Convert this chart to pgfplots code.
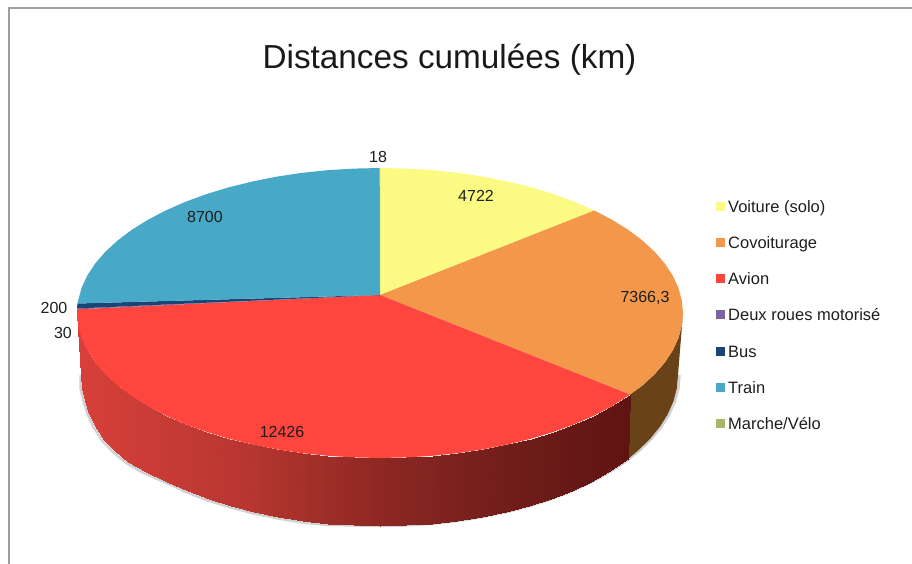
\documentclass[border=0pt]{standalone}
\usepackage{pgfplots}
\pgfplotsset{compat=1.18}
\usepackage{fontspec}
\setmainfont{Liberation Sans}
\definecolor{cyellow}{RGB}{251,250,130}
\definecolor{corange}{RGB}{243,152,74}
\definecolor{cred}{RGB}{254,69,62}
\definecolor{cmoto}{RGB}{125,99,162}
\definecolor{cbus}{RGB}{26,68,118}
\definecolor{ctrain}{RGB}{71,169,198}
\definecolor{cwalk}{RGB}{165,184,104}
\definecolor{cbrown}{RGB}{106,66,24}
\definecolor{clab}{RGB}{30,30,30}
\begin{document}
\begin{tikzpicture}
\useasboundingbox (0,0) rectangle (912pt,564pt);
\begin{axis}[scale only axis,width=912pt,height=564pt,
  hide axis,xmin=0,xmax=912,ymin=0,ymax=564,y dir=reverse,
  colormap={sidered}{rgb255(0)=(216,64,58) rgb255(168)=(184,54,48) rgb255(298)=(142,40,35) rgb255(418)=(114,30,27) rgb255(548)=(94,20,18)},
  legend image code/.code={\path[#1] (0pt,-3pt) rectangle (9pt,6pt);},
  legend cell align=left,
  legend style={at={(axis cs:716,200)},anchor=north west,draw=none,fill=none,inner sep=0pt,
    font=\fontsize{16.5}{19}\selectfont,text=clab,row sep=21.2pt,
    nodes={text height=12pt,text depth=3pt,inner sep=0pt,outer sep=0pt},
    /tikz/column 1/.style={column sep=3pt}},
]
% frame
\addplot[forget plot,draw=black!38,line width=2pt] coordinates {(8.5,564)(8.5,8)(912,8)};
% soft shadow under the disc
\addplot[forget plot,draw=black!18,line width=2.5pt] coordinates
  {(679.5,375)(678.4,388.2)(675,401.2)(669.3,414.1)(661.5,426.6)(651.6,438.8)(639.6,450.5)(625.6,461.6)(609.8,472.1)(592.2,481.8)(573.1,490.7)(552.4,498.7)(530.5,505.8)(507.4,511.9)(483.4,516.9)(458.6,520.9)(433.2,523.7)(407.5,525.4)(381.5,526)(355.5,525.4)(328,525)(303,522.5)(278,518.5)(254,513.5)(231,507.5)(208,500.5)(187,492.5)(168,483.5)(144.5,473.5)(126.5,463)(113.5,452.5)(102.5,441)(93.5,427)(88,415)(83.5,401)(80.5,388)(80.5,375)};
% side of the disc
\addplot[forget plot,fill=cbrown,draw=none] coordinates
  {(683,313)(681.8,325.6)(678.4,338.2)(672.7,350.5)(664.7,362.6)(654.6,374.3)(642.4,385.5)(630,394.5)(628,459)(638.1,450.5)(650.1,438.8)(660,426.6)(667.8,414.1)(673.5,401.2)(676.9,388.2)(678,375)} -- cycle;
\addplot[forget plot,patch,patch type=rectangle,mesh input=lattice,mesh/cols=30,shader=interp,point meta=x] table[x=x,y=y] {
x y
630 394.5
612.1 406.2
594.3 415.5
574.8 424.1
553.8 431.8
531.5 438.6
508 444.4
483.6 449.3
458.4 453.1
432.6 455.8
406.4 457.4
380 458
353.6 457.4
327.4 455.8
301.6 453.1
276.4 449.3
252 444.4
228.5 438.6
206.2 431.8
185.2 424.1
165.7 415.5
147.9 406.2
131.8 396.2
117.6 385.5
105.4 374.3
95.3 362.6
87.3 350.5
81.6 338.2
78.2 325.6
77 313
628 459
608.3 472.1
590.7 481.8
571.6 490.7
550.9 498.7
529 505.8
505.9 511.9
481.9 516.9
457.1 520.9
431.7 523.7
406 525.4
380 526
354 525.4
328.3 523.7
302.9 520.9
278.1 516.9
254.1 511.9
231 505.8
209.1 498.7
188.4 490.7
167 482
146 472
128 461.6
115 451
104 440
95 426
89.5 414
85 401
82 388
81 375
};
% top of the disc, one slice per series
\addplot[fill=cyellow,draw=none] coordinates
  {(380,295)(380,168)(406.4,168.6)(432.6,170.2)(458.4,172.9)(483.6,176.7)(508,181.6)(531.5,187.4)(553.8,194.2)(574.8,201.9)(594.3,210.5)} -- cycle;
\addlegendentry{Voiture (solo)}
\addplot[fill=corange,draw=none] coordinates
  {(380,295)(594.3,210.5)(612.1,219.8)(628.2,229.8)(642.4,240.5)(654.6,251.7)(664.7,263.4)(672.7,275.5)(678.4,287.8)(681.8,300.4)(683,313)(681.8,325.6)(678.4,338.2)(672.7,350.5)(664.7,362.6)(654.6,374.3)(642.4,385.5)(630,394.5)} -- cycle;
\addlegendentry{Covoiturage}
\addplot[fill=cred,draw=none] coordinates
  {(380,295)(630,394.5)(612.1,406.2)(594.3,415.5)(574.8,424.1)(553.8,431.8)(531.5,438.6)(508,444.4)(483.6,449.3)(458.4,453.1)(432.6,455.8)(406.4,457.4)(380,458)(353.6,457.4)(327.4,455.8)(301.6,453.1)(276.4,449.3)(252,444.4)(228.5,438.6)(206.2,431.8)(185.2,424.1)(165.7,415.5)(147.9,406.2)(131.8,396.2)(117.6,385.5)(105.4,374.3)(95.3,362.6)(87.3,350.5)(81.6,338.2)(78.2,325.6)(77,313)(77,309.3)} -- cycle;
\addlegendentry{Avion}
\addplot[fill=cmoto,draw=none] coordinates
  {(380,295)(77,309.3)(77,308.5)} -- cycle;
\addlegendentry{Deux roues motorisé}
\addplot[fill=cbus,draw=none] coordinates
  {(380,295)(77,308.5)(77.5,303.5)} -- cycle;
\addlegendentry{Bus}
\addplot[fill=ctrain,draw=none] coordinates
  {(380,295)(77.5,303.5)(78.2,300.4)(81.6,287.8)(87.3,275.5)(95.3,263.4)(105.4,251.7)(117.6,240.5)(131.8,229.8)(147.9,219.8)(165.7,210.5)(185.2,201.9)(206.2,194.2)(228.5,187.4)(252,181.6)(276.4,176.7)(301.6,172.9)(327.4,170.2)(353.6,168.6)(379.7,168)} -- cycle;
\addlegendentry{Train}
\addplot[fill=cwalk,draw=none] coordinates
  {(380,295)(379.7,168)(380,168)} -- cycle;
\addlegendentry{Marche/Vélo}
% title and value labels
\node[font=\fontsize{33.3}{40}\selectfont,text=black!90] at (axis cs:449.5,60) {Distances cumulées (km)};
\begin{scope}[every node/.style={font=\fontsize{16}{19}\selectfont,text=clab,inner sep=0pt}]
\node at (axis cs:378,156.5) {18};
\node at (axis cs:476,195.5) {4722};
\node at (axis cs:645,298) {7366,3};
\node at (axis cs:282,431.5) {12426};
\node at (axis cs:205,217) {8700};
\node at (axis cs:54,308) {200};
\node at (axis cs:63,333) {30};
\end{scope}
\end{axis}
\end{tikzpicture}
\end{document}
